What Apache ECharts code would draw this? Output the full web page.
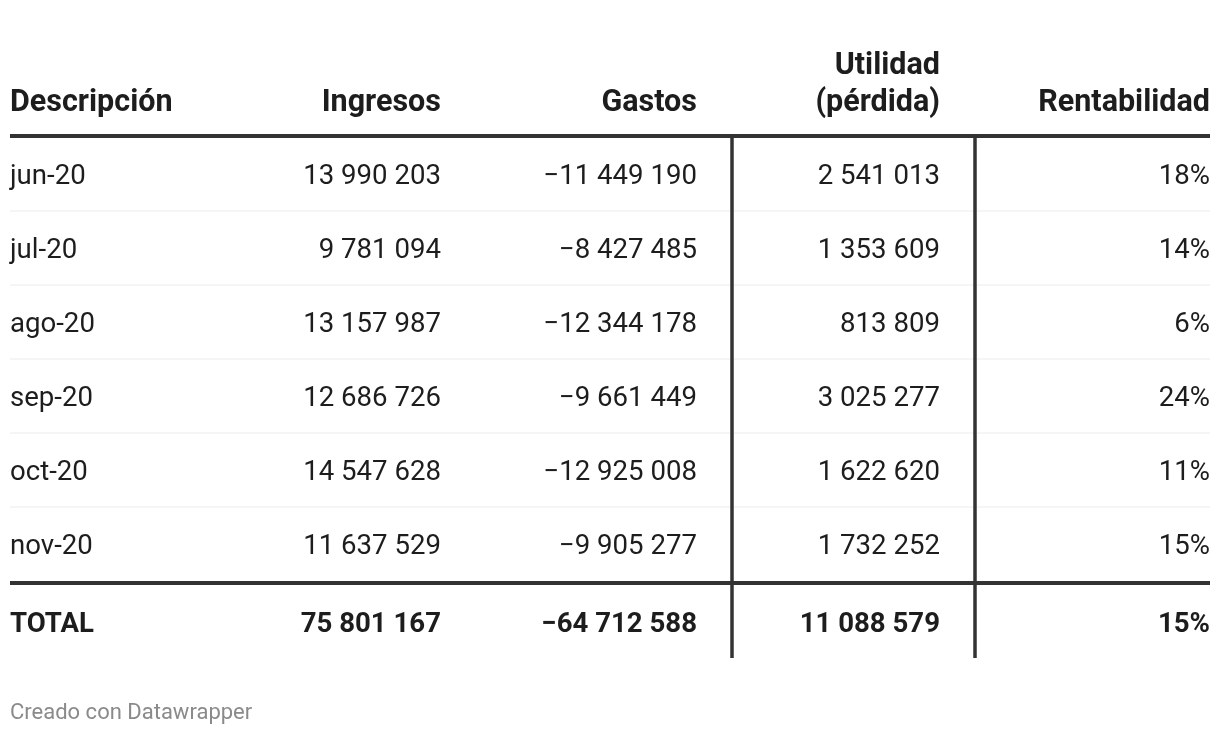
<!DOCTYPE html>
<html>
<head>
<meta charset="utf-8">
<script src="https://cdn.jsdelivr.net/npm/echarts@6/dist/echarts.min.js"></script>
<style>
html,body{margin:0;padding:0;background:#fff;}
#chart{width:1220px;height:734px;}
</style>
</head>
<body>
<div id="chart"></div>
<script>
// ---- data ----
const headers = ['Descripción', 'Ingresos', 'Gastos', 'Utilidad\n(pérdida)', 'Rentabilidad'];
const months = ['jun-20', 'jul-20', 'ago-20', 'sep-20', 'oct-20', 'nov-20'];
const ingresos = [13990203, 9781094, 13157987, 12686726, 14547628, 11637529];
const gastos = [-11449190, -8427485, -12344178, -9661449, -12925008, -9905277];
const utilidad = [2541013, 1353609, 813809, 3025277, 1622620, 1732252];
const rentabilidad = [18, 14, 6, 24, 11, 15];
const totalLabel = 'TOTAL';
const totalRow = [75801167, -64712588, 11088579, 15];
const footerText = 'Creado con Datawrapper';

// ---- layout ----
const W = 1220, H = 734;
const colAnchor = [10, 441, 697, 940, 1210];
const colAlign = ['left', 'right', 'right', 'right', 'right'];
const leftEdge = 10, rightEdge = 1210;
const headerMid = 103, headerLine = 37;
const rowMid0 = 177.5, rowStep = 74;
const totalMid = 625;
const headerSize = 30.5, bodySize = 27.6;
const thickTop = 136, thickBottom = 583, tableBottom = 658;
const vLines = [732, 975];
const textColor = '#1d1d1d';
const ruleColor = '#333333';
const thinColor = '#ececec';
const fontFamily = 'Roboto, "Noto Sans", sans-serif';

function fmtNum(v) {
  const s = Math.abs(v).toString().replace(/\B(?=(\d{3})+(?!\d))/g, ' ');
  return (v < 0 ? '\u2212' : '') + s;
}

// cells: [col, y, text, weight, size, color]
const cells = [];
headers.forEach((h, c) => {
  const lines = h.split('\n');
  lines.forEach((ln, i) => {
    const y = headerMid - (lines.length - 1 - i) * headerLine;
    cells.push([c, y, ln, 'bold', headerSize, textColor]);
  });
});
months.forEach((m, r) => {
  const y = rowMid0 + r * rowStep;
  cells.push([0, y, m, 'normal', bodySize, textColor]);
  cells.push([1, y, fmtNum(ingresos[r]), 'normal', bodySize, textColor]);
  cells.push([2, y, fmtNum(gastos[r]), 'normal', bodySize, textColor]);
  cells.push([3, y, fmtNum(utilidad[r]), 'normal', bodySize, textColor]);
  cells.push([4, y, rentabilidad[r] + '%', 'normal', bodySize, textColor]);
});
cells.push([0, totalMid, totalLabel, 'bold', bodySize, textColor]);
cells.push([1, totalMid, fmtNum(totalRow[0]), 'bold', bodySize, textColor]);
cells.push([2, totalMid, fmtNum(totalRow[1]), 'bold', bodySize, textColor]);
cells.push([3, totalMid, fmtNum(totalRow[2]), 'bold', bodySize, textColor]);
cells.push([4, totalMid, totalRow[3] + '%', 'bold', bodySize, textColor]);

// rules: [x1, y1, x2, y2, width, color]
const rules = [];
for (let r = 0; r < months.length - 1; r++) {
  const y = 211 + r * rowStep;
  rules.push([leftEdge, y, rightEdge, y, 1, thinColor]);
}
rules.push([leftEdge, thickTop, rightEdge, thickTop, 4, ruleColor]);
rules.push([leftEdge, thickBottom, rightEdge, thickBottom, 4, ruleColor]);
vLines.forEach(x => rules.push([x, thickTop, x, tableBottom, 3.5, ruleColor]));

const chart = echarts.init(document.getElementById('chart'), null, {renderer: 'canvas'});
chart.setOption({
  animation: false,
  backgroundColor: '#ffffff',
  grid: {left: 0, right: 0, top: 0, bottom: 0},
  xAxis: {type: 'value', min: 0, max: W, show: false},
  yAxis: {type: 'value', min: 0, max: H, inverse: true, show: false},
  graphic: [{
    type: 'text', left: 10, top: 702,
    style: {text: footerText, font: '22px ' + fontFamily, fill: '#8a8a8a'}
  }],
  series: [
    {
      type: 'custom',
      coordinateSystem: 'cartesian2d',
      silent: true,
      data: rules,
      encode: {x: [0, 2], y: [1, 3]},
      renderItem: function (params, api) {
        const p1 = api.coord([api.value(0), api.value(1)]);
        const p2 = api.coord([api.value(2), api.value(3)]);
        const d = rules[params.dataIndex];
        return {
          type: 'line',
          shape: {x1: p1[0], y1: p1[1], x2: p2[0], y2: p2[1]},
          style: {stroke: d[5], lineWidth: d[4]}
        };
      }
    },
    {
      type: 'custom',
      coordinateSystem: 'cartesian2d',
      silent: true,
      z: 3,
      data: cells.map(c => [colAnchor[c[0]], c[1]]),
      renderItem: function (params, api) {
        const c = cells[params.dataIndex];
        const p = api.coord([api.value(0), api.value(1)]);
        return {
          type: 'text',
          style: {
            x: p[0], y: p[1],
            text: c[2],
            font: c[3] + ' ' + c[4] + 'px ' + fontFamily,
            fill: c[5],
            align: colAlign[c[0]],
            verticalAlign: 'middle'
          }
        };
      }
    }
  ]
});
</script>
</body>
</html>
